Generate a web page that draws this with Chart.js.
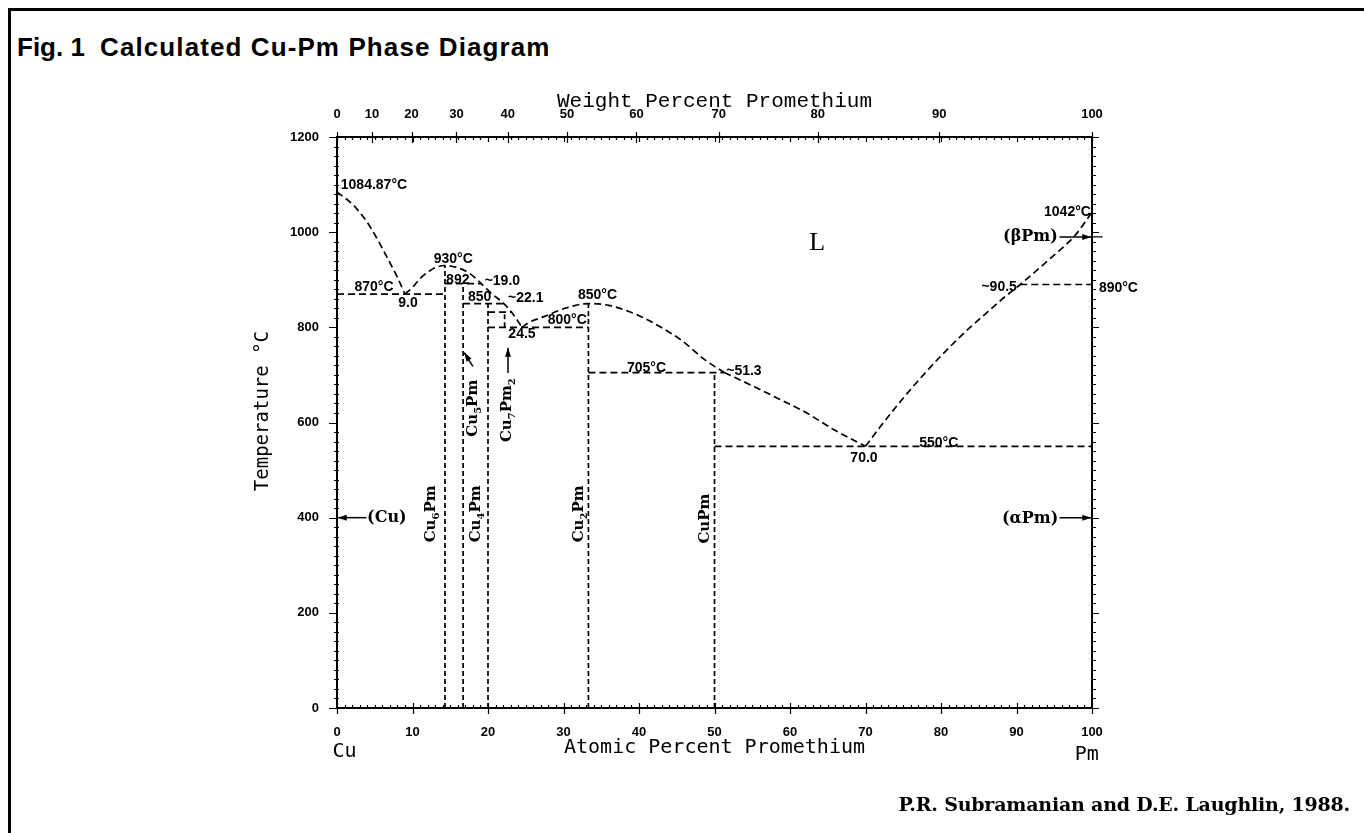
<!DOCTYPE html>
<html><head><meta charset="utf-8">
<script src="https://cdn.jsdelivr.net/npm/chart.js@4.4.1/dist/chart.umd.min.js"></script>
<style>
html,body{margin:0;padding:0;background:#fff;}
#wrap{position:relative;width:1364px;height:833px;overflow:hidden;background:#fff;}
#frame{position:absolute;left:8px;top:8px;width:1400px;height:900px;border-top:3px solid #000;border-left:3px solid #000;}
#title{position:absolute;left:17px;top:32px;line-height:30px;font:bold 26px "Liberation Sans",Arial,sans-serif;white-space:pre;color:#000;}
#title span.a{letter-spacing:0px;}
#title span.b{position:absolute;left:83px;top:0;letter-spacing:1.1px;}
#cite{position:absolute;right:14px;top:793px;font:bold 19px "DejaVu Serif",serif;letter-spacing:-0.2px;color:#000;white-space:pre;}
canvas{position:absolute;left:0;top:0;}
</style></head><body>
<div id="wrap">
<div id="frame"></div>
<div id="title"><span class="a">Fig. 1</span><span class="b">Calculated Cu-Pm Phase Diagram</span></div>
<canvas id="c" width="1364" height="833"></canvas>
<div id="cite">P.R. Subramanian and D.E. Laughlin, 1988.</div>
</div>
<script>
// ---------- data ----------
const atTicks = [0,10,20,30,40,50,60,70,80,90,100];
const tempTicks = [0,200,400,600,800,1000,1200];
const wtTickLabels = [0,10,20,30,40,50,60,70,80,90,100];
const MASS_CU = 63.546, MASS_PM = 145;

const liquidusCu = [[0,1084.87],[2.4,1053],[4.4,1011],[6.6,948],[8.0,905],[9.0,870]];
const liquidusCu6Pm = [[9.0,870],[10.0,884],[11.1,904],[12.2,918],[13.1,926],[14.3,930],[16.0,925],[17.6,913],[19.1,892],[20.4,872],[22.1,850],[23.4,826],[24.5,800]];
const liquidusCu2Pm = [[24.5,800],[25.4,810],[27.5,823],[30.2,840],[33.3,850],[36.0,846],[39.8,826],[42.8,801],[45.6,773],[48.8,731],[51.3,705]];
const liquidusMid = [[51.3,705],[55.3,675],[58.6,649],[62.0,622],[65.9,584],[70.0,550]];
const liquidusPm = [[70.0,550],[72.0,592],[74.0,632],[76.0,670],[78.0,706],[80.0,740],[82.0,772],[84.0,802],[86.0,830],[88.0,858],[90.5,890],[94.2,941],[97.8,994],[100,1042]];

const iso870 = [[0,870],[14.3,870]];
const iso892 = [[14.3,892],[19.1,892]];
const iso850 = [[16.7,850],[22.1,850]];
const iso832 = [[20.0,832],[23.2,832]];
const iso800 = [[20.0,800],[33.3,800]];
const iso705 = [[33.3,705],[51.3,705]];
const iso550 = [[50.0,550],[100,550]];
const iso890 = [[90.5,890],[100,890]];

const lineCu6Pm = [[14.3,0],[14.3,930]];
const lineCu5Pm = [[16.7,0],[16.7,892]];
const lineCu4Pm = [[20.0,0],[20.0,850]];
const lineCu7Pm2 = [[22.2,800],[22.2,832]];
const lineCu2Pm = [[33.3,0],[33.3,850]];
const lineCuPm = [[50.0,0],[50.0,705]];

// ---------- annotations ----------
const valueLabels = [
  ['1084.87°C',0.5,1099,'left'],['930°C',15.4,944],['892',16.0,899],['~19.0',21.9,897],
  ['870°C',4.9,885],['9.0',9.4,851],['850',18.9,864],['~22.1',25.0,862],['850°C',34.5,867],
  ['800°C',30.5,815],['24.5',24.5,785],['705°C',41.0,715],['~51.3',53.9,708],['70.0',69.8,525],
  ['550°C',79.7,557],['~90.5',87.7,885],['890°C',103.5,883],['1042°C',96.75,1042]
];
const phaseLabels = [
  [[['Cu',0],['6',1],['Pm',0]],12.3,408],
  [[['Cu',0],['5',1],['Pm',0]],17.9,630],
  [[['Cu',0],['4',1],['Pm',0]],18.3,408],
  [[['Cu',0],['7',1],['Pm',0],['2',1]],22.4,626],
  [[['Cu',0],['2',1],['Pm',0]],31.9,408],
  [[['CuPm',0]],48.6,398]
];
const sideLabels = [['(Cu)',6.6,399],['(βPm)',91.85,990],['(αPm)',91.8,398]];
const arrows = [[3.9,400,0.1,400],[95.7,400,99.9,400],[95.7,990,99.9,990],[18.0,718,16.85,747],[22.65,704,22.65,757]];
const arrowTails = [[99.9,990,101.4,990]];

const wtToAt = w => { if (w >= 100) return 100; const a = w / MASS_PM, b = (100 - w) / MASS_CU; return 100 * a / (a + b); };

function ds(pts, dash, curve){
  return {data: pts.map(p => ({x:p[0], y:p[1]})), showLine:true, borderColor:'#000', borderWidth:1.7,
    borderDash:dash, pointRadius:0, pointHoverRadius:0, fill:false, clip:false,
    cubicInterpolationMode: curve ? 'monotone' : 'default', tension:0};
}
const HD = [7,4], VD = [5,3];

const decor = {
  id:'decor',
  afterDraw(chart){
    const {ctx, chartArea:a, scales:{x, y}} = chart;
    const X = v => x.getPixelForValue(v), Y = v => y.getPixelForValue(v);
    ctx.save();
    ctx.strokeStyle = '#000'; ctx.lineWidth = 1.2; ctx.beginPath();
    const seg = (x1,y1,x2,y2) => { ctx.moveTo(x1,y1); ctx.lineTo(x2,y2); };
    for (let v = 0; v <= 100; v++) {
      const px = Math.round(X(v)) + 0.5, M = v % 10 === 0;
      seg(px, a.bottom - (M ? 5 : 3), px, a.bottom + (M ? 6 : 0));
      seg(px, a.top, px, a.top + (M ? 5 : 3));
    }
    wtTickLabels.forEach(w => { const px = Math.round(X(wtToAt(w))) + 0.5; seg(px, a.top - 5, px, a.top + 6); });
    for (let t = 0; t <= 1200; t += 20) {
      const py = Math.round(Y(t)) + 0.5, M = t % 200 === 0;
      seg(a.left - (M ? 8 : 3), py, a.left + (M ? 0 : 2), py);
      seg(a.right - (M ? 0 : 1), py, a.right + (M ? 7 : 4), py);
    }
    arrowTails.forEach(([x1,y1,x2,y2]) => seg(X(x1), Y(y1), X(x2), Y(y2)));
    ctx.stroke();

    // arrows
    ctx.lineWidth = 1.5;
    arrows.forEach(([x1,y1,x2,y2]) => {
      const p1 = [X(x1), Y(y1)], p2 = [X(x2), Y(y2)];
      ctx.beginPath(); ctx.moveTo(p1[0], p1[1]); ctx.lineTo(p2[0], p2[1]); ctx.stroke();
      const ang = Math.atan2(p2[1]-p1[1], p2[0]-p1[0]), L = 9, W = 3;
      ctx.beginPath(); ctx.moveTo(p2[0], p2[1]);
      ctx.lineTo(p2[0] - L*Math.cos(ang) + W*Math.sin(ang), p2[1] - L*Math.sin(ang) - W*Math.cos(ang));
      ctx.lineTo(p2[0] - L*Math.cos(ang) - W*Math.sin(ang), p2[1] - L*Math.sin(ang) + W*Math.cos(ang));
      ctx.closePath(); ctx.fillStyle = '#000'; ctx.fill();
    });

    ctx.fillStyle = '#000';
    ctx.textBaseline = 'middle';
    ctx.font = 'bold 14px "Liberation Sans", Arial, sans-serif';
    valueLabels.forEach(([t, vx, vy, al]) => { ctx.textAlign = al || 'center'; ctx.fillText(t, X(vx), Y(vy)); });

    ctx.font = 'bold 16px "DejaVu Serif", serif';
    sideLabels.forEach(([t, vx, vy]) => { ctx.textAlign = 'center'; ctx.fillText(t, X(vx), Y(vy)); });

    ctx.font = '26px "Liberation Serif", serif'; ctx.textAlign = 'center';
    ctx.fillText('L', X(63.6), Y(977));

    ctx.font = '20px "DejaVu Sans Mono", monospace';
    ctx.fillText('Cu', X(1.0), Y(-92));
    ctx.fillText('Pm', X(99.3), Y(-99));

    // rotated phase labels with subscripts
    const mainF = 'bold 15px "DejaVu Serif", serif', subF = 'bold 10px "DejaVu Serif", serif';
    ctx.textAlign = 'left'; ctx.textBaseline = 'alphabetic';
    phaseLabels.forEach(([parts, vx, vy]) => {
      let w = 0;
      parts.forEach(([s, sub]) => { ctx.font = sub ? subF : mainF; w += ctx.measureText(s).width; });
      ctx.save(); ctx.translate(X(vx), Y(vy)); ctx.rotate(-Math.PI/2);
      let cx = -w/2;
      parts.forEach(([s, sub]) => { ctx.font = sub ? subF : mainF; ctx.fillText(s, cx, sub ? 9 : 5); cx += ctx.measureText(s).width; });
      ctx.restore();
    });
    ctx.restore();
  }
};

const tickFont = {family:'"Liberation Sans", Arial, sans-serif', size:13, weight:'bold'};
new Chart(document.getElementById('c'), {
  type:'scatter',
  data:{datasets:[
    ds(liquidusCu, HD, true), ds(liquidusCu6Pm, HD, true), ds(liquidusCu2Pm, HD, true),
    ds(liquidusMid, HD, true), ds(liquidusPm, HD, true),
    ds(iso870, HD), ds(iso892, HD), ds(iso850, HD), ds(iso832, HD), ds(iso800, HD),
    ds(iso705, HD), ds(iso550, HD), ds(iso890, HD),
    ds(lineCu6Pm, VD), ds(lineCu5Pm, VD), ds(lineCu4Pm, VD), ds(lineCu7Pm2, VD), ds(lineCu2Pm, VD), ds(lineCuPm, VD)
  ]},
  options:{
    responsive:false, animation:false, events:[],
    layout:{padding:{left:230, right:262, top:77, bottom:65}},
    plugins:{legend:{display:false}, tooltip:{enabled:false}},
    scales:{
      x:{type:'linear', position:'bottom', min:0, max:100,
        afterBuildTicks: ax => { ax.ticks = atTicks.map(v => ({value:v})); },
        ticks:{autoSkip:false, maxRotation:0, padding:9, font:tickFont, color:'#000', callback: v => String(v)},
        grid:{display:false}, border:{display:true, width:2, color:'#000'},
        title:{display:true, text:'Atomic Percent Promethium', color:'#000', font:{family:'"DejaVu Sans Mono", monospace', size:20}, padding:{top:0, bottom:8}},
        afterFit: s => { s.height = 60; }},
      x2:{type:'linear', position:'top', min:0, max:100,
        afterBuildTicks: ax => { ax.ticks = wtTickLabels.map(w => ({value: wtToAt(w)})); },
        ticks:{autoSkip:false, maxRotation:0, padding:7, font:tickFont, color:'#000', callback: (v, i) => String(wtTickLabels[i])},
        grid:{display:false}, border:{display:true, width:2, color:'#000'},
        title:{display:true, text:'Weight Percent Promethium', color:'#000', font:{family:'"Liberation Mono", monospace', size:21}, padding:{top:12, bottom:0}},
        afterFit: s => { s.height = 60; }},
      y:{type:'linear', position:'left', min:0, max:1200,
        afterBuildTicks: ax => { ax.ticks = tempTicks.map(v => ({value:v})); },
        ticks:{autoSkip:false, padding:10, font:tickFont, color:'#000', callback: v => String(v)},
        grid:{display:false}, border:{display:true, width:2, color:'#000'},
        title:{display:true, text:'  Temperature °C', color:'#000', font:{family:'"DejaVu Sans Mono", monospace', size:19}, padding:{top:22, bottom:0}},
        afterFit: s => { s.width = 107; }},
      y2:{type:'linear', position:'right', min:0, max:1200,
        ticks:{display:false}, grid:{display:false}, border:{display:true, width:2, color:'#000'},
        afterFit: s => { s.width = 10; }}
    }
  },
  plugins:[decor]
});
</script>
</body></html>
